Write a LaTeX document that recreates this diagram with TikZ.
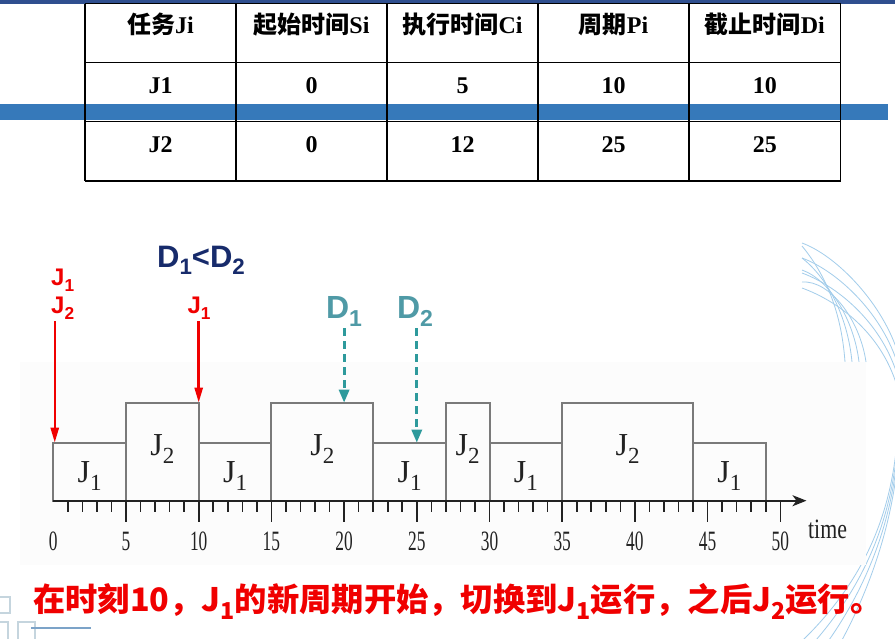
\documentclass[tikz,border=0pt]{standalone}
\usepackage{fontspec}
\usepackage{graphicx}
\setmainfont{Liberation Serif}
\setsansfont{Liberation Sans}
\newfontfamily\cjk{Noto Sans CJK SC}
\usetikzlibrary{arrows.meta,positioning}
\definecolor{topbar}{HTML}{2F4F8F}
\definecolor{band}{HTML}{3679BA}
\definecolor{swirlc}{HTML}{A3CDEB}
\definecolor{deco}{HTML}{C5D5DE}
\definecolor{decoln}{HTML}{7CA3C8}
\definecolor{chartbg}{HTML}{FCFCFC}
\definecolor{slotln}{HTML}{7A7A7A}
\definecolor{ink}{HTML}{222222}
\definecolor{navy}{HTML}{172B6B}
\definecolor{tealln}{HTML}{2E9A9C}
\definecolor{teallab}{HTML}{4F9AA6}
\definecolor{alarm}{HTML}{F00000}
\newcommand{\lo}[1]{\raisebox{-0.25em}{\scalebox{0.72}{#1}}}
\tikzset{
  cell/.style={font=\fontsize{24}{24}\selectfont\bfseries,anchor=base,inner sep=0pt},
  grid/.style={draw=black,line width=1.4pt},
  slot/.style={draw=slotln,line width=2pt},
  joblab/.style={font=\fontsize{32}{32}\selectfont,text=ink,anchor=base,inner sep=0pt},
  ticklab/.style={font=\fontsize{28}{28}\selectfont,text=ink,anchor=base,inner sep=0pt},
  axis/.style={draw=ink,line width=2pt,-{Stealth[length=14pt,width=11pt,inset=4pt]}},
  tick/.style={draw=ink,line width=1.6pt},
  rel/.style={font=\fontsize{24}{24}\selectfont\sffamily\bfseries,text=alarm,inner sep=2pt},
  ddl/.style={font=\fontsize{32}{32}\selectfont\sffamily\bfseries,text=teallab,inner sep=2pt},
  redar/.style={draw=alarm,line width=2.5pt,-{Triangle[length=15pt,width=8pt]}},
  tealar/.style={draw=tealln,line width=3pt,dash pattern=on 8pt off 5pt,
                 -{Triangle[length=13pt,width=10pt]}},
  swirl/.style={draw=swirlc,line width=0.8pt},
}
\begin{document}
\begin{tikzpicture}[x=1pt,y=-1pt]
\useasboundingbox (0,0) rectangle (895,638);
\fill[white] (0,0) rectangle (895,638);

% ---- slide decoration ----
\fill[topbar] (0,0) rectangle (895,3.5);
\fill[band] (0,104) rectangle (888,119.5);
\foreach \k in {0,...,3}
  \draw[swirl] (802,243+15*\k) .. controls (835,255+15*\k) and (880,300+10*\k) .. (897,350+12*\k);
\foreach \k in {0,...,3}
  \draw[swirl] (802,246+12*\k) .. controls (830,280) and (842+6*\k,320) .. (845+7*\k,362);
\foreach \k in {0,...,3}
  \draw[swirl] (897,360+15*\k) .. controls (905,470) and (885,560) .. (803+13*\k,640);
\draw[draw=deco,line width=1.2pt] (-6,597) rectangle (10,613);
\draw[draw=deco,line width=1.2pt] (-8,622) rectangle (8,641);
\draw[draw=deco,line width=1.2pt] (18,622) rectangle (35,641);
\draw[draw=decoln,line width=1.5pt] (31,628) -- (91,628);

% ---- parameter table ----
\foreach \y in {3.5,62.3,121.7,181}
  \draw[grid] (85,\y) -- (840.6,\y);
\foreach \x in {85,236,387,538,689,840.6}
  \draw[grid] (\x,3.5) -- (\x,181);
\foreach \x/\h/\a/\b [count=\i] in {
    160.5/{{\cjk 任务}Ji}/J1/J2,
    311.5/{{\cjk 起始时间}Si}/0/0,
    462.5/{{\cjk 执行时间}Ci}/5/12,
    613.5/{{\cjk 周期}Pi}/10/25,
    764.8/{{\cjk 截止时间}Di}/10/25}{
  \node[cell] (h\i) at (\x,33) {\h};
  \node[cell] (a\i) at (\x,93) {\a};
  \node[cell] (b\i) at (\x,152) {\b};
}

% ---- schedule ----
\fill[chartbg] (20,362) rectangle (866,565);
\begin{scope}[shift={(53.3pt,-500.7pt)},x=14.54pt,y=1pt]
  \foreach \s/\e/\h/\ly/\j in {0/5/58/18.7/1,5/10/98/45.7/2,10/15/58/18.7/1,
      15/22/98/45.7/2,22/27/58/18.7/1,27/30/98/45.7/2,30/35/58/18.7/1,
      35/44/98/45.7/2,44/49/58/18.7/1}{
    \draw[slot] (\s,0) rectangle (\e,\h);
    \node[joblab] (job\s) at ({(\s+\e)/2},\ly) {J\lo{\j}};
  }
  \foreach \t in {1,...,49}
    \draw[tick] (\t,0) -- (\t,-11);
  \foreach \t in {5,10,...,50}
    \draw[tick] (\t,0) -- (\t,-21);
  \draw[axis] (0,0) -- (51.8,0);
  \foreach \t in {0,5,...,50}
    \node[ticklab] (n\t) at (\t,-49.3) {\scalebox{0.62}[1]{\t}};
  \node[ticklab,anchor=base west] (time) at (51.9,-37.3)
    {\scalebox{0.78}[1]{time}};
  \coordinate (c0) at (0.1,58);
  \coordinate (c10) at (10,98);
  \coordinate (c20) at (20,98);
  \coordinate (c25) at (25,58);
\end{scope}

% ---- releases and deadlines ----
\node[font=\fontsize{31}{31}\selectfont\sffamily\bfseries,text=navy,anchor=base,inner sep=0pt]
  (cmp) at (201,267) {D\lo{1}<D\lo{2}};
\node[rel,anchor=base west] (r0a) at (49,285) {J\lo{1}};
\node[rel,anchor=base west] (r0b) at (49,313) {J\lo{2}};
\node[rel,anchor=base] (r10) at (199,313) {J\lo{1}};
\node[ddl,anchor=base] (d20) at (344,318) {D\lo{1}};
\node[ddl,anchor=base] (d25) at (415,318) {D\lo{2}};
\draw[redar] (r0b.south -| c0) -- (c0);
\draw[redar] (r10.south -| c10) -- (c10);
\draw[tealar] (d20.south -| c20) -- (c20);
\draw[tealar] (d25.south -| c25) -- (c25);

% ---- note ----
\node[font=\fontsize{32.3}{32}\selectfont\cjk\bfseries,text=alarm,anchor=base west,inner sep=0pt]
  (note) at (33,611)
  {在时刻10，J\lo{1}的新周期开始，切换到J\lo{1}运行，之后J\lo{2}运行。};

\end{tikzpicture}
\end{document}
